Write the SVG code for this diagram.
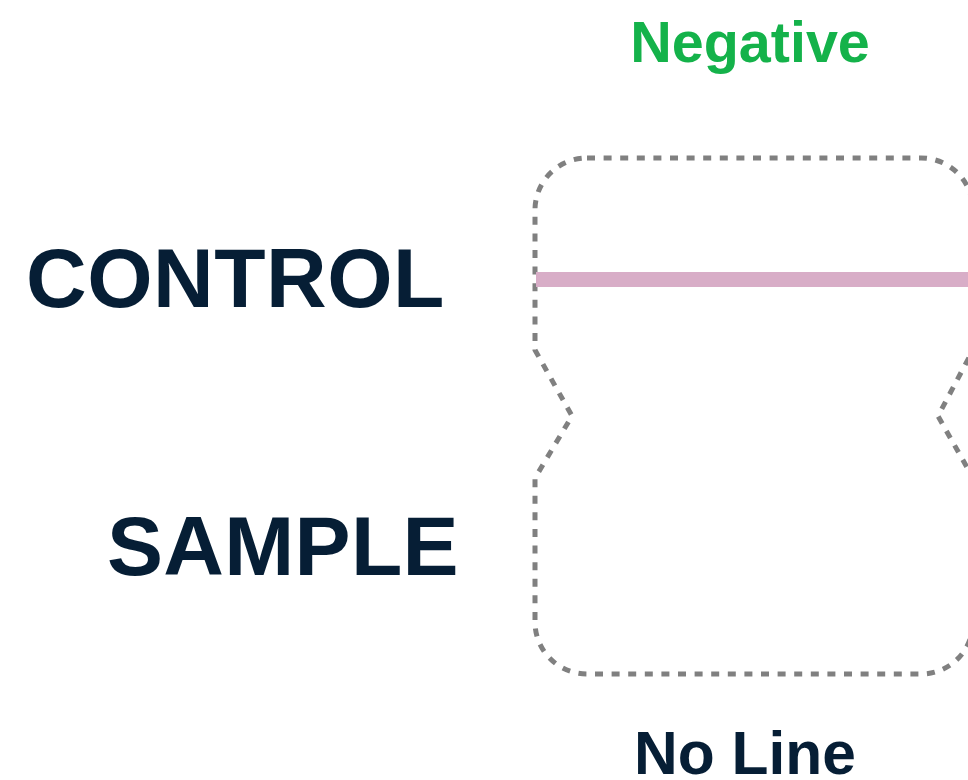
<svg xmlns="http://www.w3.org/2000/svg" width="968" height="780" viewBox="0 0 968 780">
<style>
.lbl{font-family:"Liberation Sans",Arial,sans-serif;font-weight:bold;fill:#061E35}
.outline{fill:none;stroke:#808080;stroke-width:5;stroke-dasharray:8 8.6}
</style>
<rect width="968" height="780" fill="#fff"/>
<g id="title"><text class="lbl" x="750" y="62" font-size="57.5" text-anchor="middle" style="fill:#14B24A">Negative</text></g>
<g id="control-label"><text class="lbl" x="26" y="307" font-size="84" letter-spacing="0.5">CONTROL</text></g>
<g id="sample-label"><text class="lbl" x="107" y="575" font-size="84" letter-spacing="0.3">SAMPLE</text></g>
<g id="strip">
<path class="outline" d="M587 158 H921 A52 52 0 0 1 973 210 V350 L938 416 L973 478 V622 A52 52 0 0 1 921 674 H587 A52 52 0 0 1 535 622 V478 L572 416 L535 350 V210 A52 52 0 0 1 587 158 Z"/>
</g>
<g id="control-line"><rect x="536" y="272" width="440" height="15" fill="#D8ADC7"/></g>
<g id="result-label"><text class="lbl" x="745" y="774" font-size="60.5" text-anchor="middle">No Line</text></g>
<g id="connectors"></g>
</svg>
